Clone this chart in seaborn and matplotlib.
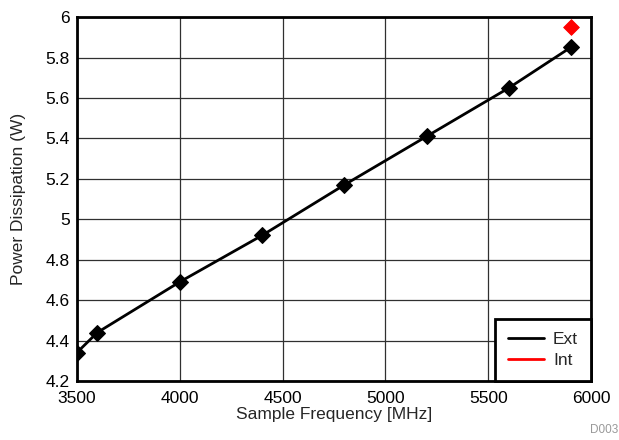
import matplotlib
matplotlib.use('Agg')
import matplotlib.pyplot as plt
from matplotlib.lines import Line2D
import seaborn as sns
import pandas as pd

ext_freq = [3500, 3600, 4000, 4400, 4800, 5200, 5600, 5900]
ext_power = [4.34, 4.44, 4.69, 4.92, 5.17, 5.41, 5.65, 5.85]
int_freq = [5900]
int_power = [5.95]
x_ticks = [3500, 4000, 4500, 5000, 5500, 6000]
y_ticks = [4.2, 4.4, 4.6, 4.8, 5.0, 5.2, 5.4, 5.6, 5.8, 6.0]
y_labels = ['4.2', '4.4', '4.6', '4.8', '5', '5.2', '5.4', '5.6', '5.8', '6']

sns.set_style('white')
plt.rcParams['font.family'] = ['Liberation Sans', 'DejaVu Sans']

ext = pd.DataFrame({'freq': ext_freq, 'power': ext_power})
intl = pd.DataFrame({'freq': int_freq, 'power': int_power})

fig = plt.figure(figsize=(6.19, 4.40), dpi=100)
ax = fig.add_axes([0.124, 0.134, 0.831, 0.827])

sns.lineplot(data=ext, x='freq', y='power', ax=ax, color='black', linewidth=2,
             marker='D', markersize=8, markeredgecolor='black', zorder=3)
sns.scatterplot(data=intl, x='freq', y='power', ax=ax, color='red', marker='D',
                s=64, edgecolor='red', zorder=4)

ax.set_xlim(3500, 6000)
ax.set_ylim(4.2, 6.0)
ax.set_xticks(x_ticks)
ax.set_yticks(y_ticks)
ax.set_yticklabels(y_labels)
ax.tick_params(axis='both', length=0, labelsize=12.5, colors='black')
ax.tick_params(axis='x', pad=7)
ax.tick_params(axis='y', pad=5)
ax.grid(True, color='#303030', linewidth=0.9)
ax.set_axisbelow(True)
for sp in ax.spines.values():
    sp.set_color('black')
    sp.set_linewidth(2)

ax.set_xlabel('Sample Frequency [MHz]', fontsize=12.5, labelpad=1)
ax.set_ylabel('Power Dissipation (W)', fontsize=12.5, labelpad=14)

handles = [Line2D([], [], color='black', lw=2), Line2D([], [], color='red', lw=2)]
leg = ax.legend(handles, ['Ext', 'Int'], loc='lower right', fontsize=12.5,
                frameon=True, fancybox=False, borderaxespad=0, handlelength=2.05,
                borderpad=0.75, labelspacing=0.35, handletextpad=0.55)
leg.get_frame().set_edgecolor('black')
leg.get_frame().set_linewidth(2)
leg.get_frame().set_alpha(1)

fig.text(0.998, 0.01, 'D003', ha='right', va='bottom', fontsize=8.5, color='#999999')

fig.savefig('out.png', dpi=100)
